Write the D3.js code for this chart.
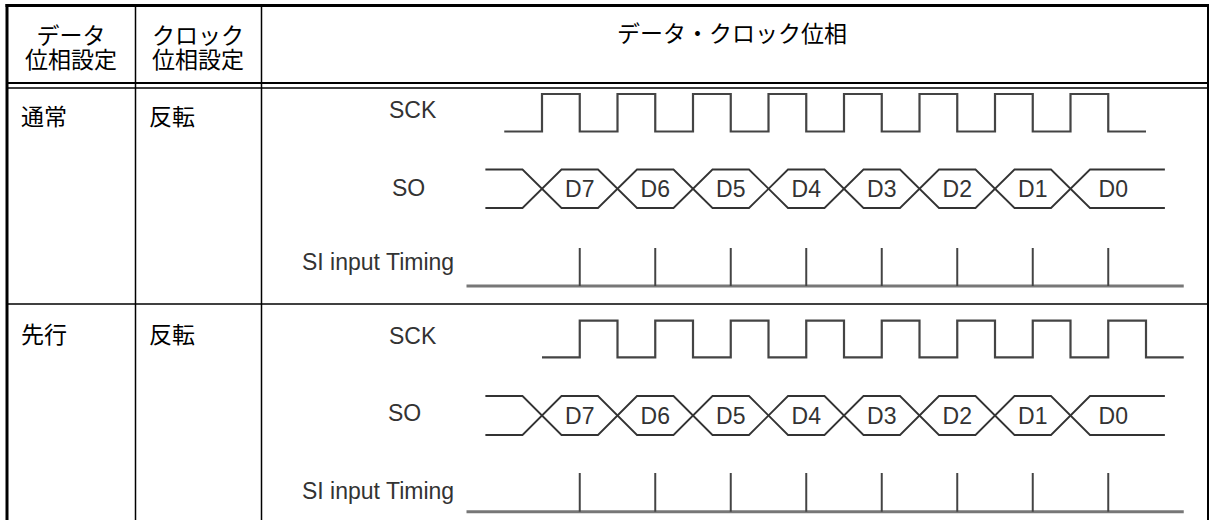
<!DOCTYPE html>
<html>
<head>
<meta charset="utf-8">
<script src="https://cdn.jsdelivr.net/npm/d3@7"></script>
<style>
  html, body { margin: 0; padding: 0; background: #fff; }
  svg { display: block; }
  .jp { font-family: "Noto Sans CJK JP", "Noto Sans", sans-serif; font-size: 23px; fill: #000; }
  .sig { font-family: "Liberation Sans", Arial, sans-serif; font-size: 23px; fill: #333; }
  .bit { font-family: "Liberation Sans", Arial, sans-serif; font-size: 23px; fill: #333; }
</style>
</head>
<body>
<svg id="chart" width="1210" height="520"></svg>
<script>
// ---------------- data ----------------
const headerCol1 = ["データ", "位相設定"];
const headerCol2 = ["クロック", "位相設定"];
const headerCol3 = "データ・クロック位相";
const dataPhase = ["通常", "先行"];
const clockPhase = ["反転", "反転"];
const signalNames = ["SCK", "SO", "SI input Timing"];
const bits = ["D7", "D6", "D5", "D4", "D3", "D2", "D1", "D0"];

// SCK waveforms: [time (bit units), level]
const sckRow1 = [[-0.5,0],[0,1],[0.5,0],[1,1],[1.5,0],[2,1],[2.5,0],[3,1],[3.5,0],[4,1],[4.5,0],[5,1],[5.5,0],[6,1],[6.5,0],[7,1],[7.5,0],[8,0]];
const sckRow2 = [[0,0],[0.5,1],[1,0],[1.5,1],[2,0],[2.5,1],[3,0],[3.5,1],[4,0],[4.5,1],[5,0],[5.5,1],[6,0],[6.5,1],[7,0],[7.5,1],[8,0],[8.5,0]];
// SO data transitions (bit units)
const soCrossRow1 = [0, 1, 2, 3, 4, 5, 6, 7];
const soCrossRow2 = [0, 1, 2, 3, 4, 5, 6, 7];
const soSpan = [-0.75, 8.25];
// SI sampling instants (bit units)
const siTicksRow1 = [0.5, 1.5, 2.5, 3.5, 4.5, 5.5, 6.5, 7.5];
const siTicksRow2 = [0.5, 1.5, 2.5, 3.5, 4.5, 5.5, 6.5, 7.5];
const siSpan = [-1, 8.5];

// ---------------- layout ----------------
const svg = d3.select("#chart");
const x = d3.scaleLinear().domain([0, 8]).range([542, 1146]);

const rows = [
  { mode: dataPhase[0], clk: clockPhase[0], textY: 115,
    sck: sckRow1, sckY: [131.5, 94], sckLabelY: 110,
    soCross: soCrossRow1, soY: [169.5, 208], soLabelX: 392, soLabelY: 188,
    si: siTicksRow1, siY: [286, 248], siLabelY: 262 },
  { mode: dataPhase[1], clk: clockPhase[1], textY: 333,
    sck: sckRow2, sckY: [357.3, 320.7], sckLabelY: 336,
    soCross: soCrossRow2, soY: [396, 435], soLabelX: 388, soLabelY: 413,
    si: siTicksRow2, siY: [511.7, 473], siLabelY: 491 }
];

// ---------------- table grid ----------------
const g = svg.append("g");
const line = (x1, y1, x2, y2, w) => g.append("line")
  .attr("x1", x1).attr("y1", y1).attr("x2", x2).attr("y2", y2)
  .attr("stroke", "#000").attr("stroke-width", w);

line(5.5, 5.5, 1208.5, 5.5, 3);     // top border
line(7, 4, 7, 520, 3);              // left border
line(1208, 4, 1208, 520, 2);        // right border
line(135.5, 5, 135.5, 520, 1.5);    // col sep 1
line(261.5, 5, 261.5, 520, 1.5);    // col sep 2
line(7, 83, 1208, 83, 2);           // header double line
line(7, 88, 1208, 88, 1.6);
line(7, 304, 1208, 304, 1.6);       // row separator

// header texts
const hdr = svg.append("g").attr("class", "jp");
[headerCol1, headerCol2].forEach((lines, i) => {
  const cx = i === 0 ? 71 : 198;
  const t = hdr.append("text").attr("text-anchor", "middle");
  lines.forEach((s, j) => {
    t.append("tspan").attr("x", cx).attr("y", 34 + j * 24)
      .attr("dominant-baseline", "central").text(s);
  });
});
hdr.append("text").attr("x", 732).attr("y", 32)
  .attr("text-anchor", "middle").attr("dominant-baseline", "central").text(headerCol3);

// ---------------- rows ----------------
rows.forEach(r => {
  const rg = svg.append("g");
  rg.append("text").attr("class", "jp").attr("x", 21).attr("y", r.textY)
    .attr("dominant-baseline", "central").text(r.mode);
  rg.append("text").attr("class", "jp").attr("x", 149).attr("y", r.textY)
    .attr("dominant-baseline", "central").text(r.clk);

  // signal labels
  rg.append("text").attr("class", "sig").attr("x", 389).attr("y", r.sckLabelY)
    .attr("dominant-baseline", "central").text(signalNames[0]);
  rg.append("text").attr("class", "sig").attr("x", r.soLabelX).attr("y", r.soLabelY)
    .attr("dominant-baseline", "central").text(signalNames[1]);
  rg.append("text").attr("class", "sig").attr("x", 302).attr("y", r.siLabelY)
    .attr("dominant-baseline", "central").text(signalNames[2]);

  // SCK
  const ySck = d3.scaleLinear().domain([0, 1]).range(r.sckY);
  rg.append("path").datum(r.sck)
    .attr("d", d3.line().x(d => x(d[0])).y(d => ySck(d[1])).curve(d3.curveStepAfter))
    .attr("fill", "none").attr("stroke", "#444").attr("stroke-width", 2.2)
    .attr("stroke-linejoin", "miter");

  // SO bus (two zig-zag lines forming hexagons)
  const ySo = d3.scaleLinear().domain([1, 0]).range(r.soY); // 1 = top, 0 = bottom
  const w = 19.5;
  [1, 0].forEach(startLevel => {
    let lvl = startLevel;
    const pts = [[x(soSpan[0]), ySo(lvl)]];
    r.soCross.forEach(c => {
      pts.push([x(c) - w, ySo(lvl)]);
      lvl = 1 - lvl;
      pts.push([x(c) + w, ySo(lvl)]);
    });
    pts.push([x(soSpan[1]), ySo(lvl)]);
    rg.append("path").attr("d", d3.line()(pts))
      .attr("fill", "none").attr("stroke", "#333").attr("stroke-width", 1.8);
  });
  const cross = r.soCross.concat([8]);
  rg.selectAll(".bit").data(bits).join("text")
    .attr("class", "bit")
    .attr("x", (d, i) => (x(cross[i]) + x(cross[i + 1])) / 2 + (i === 7 ? 5 : 0))
    .attr("y", (r.soY[0] + r.soY[1]) / 2)
    .attr("text-anchor", "middle").attr("dominant-baseline", "central")
    .text(d => d);

  // SI timing
  const ySi = d3.scaleLinear().domain([0, 1]).range(r.siY);
  rg.append("line").attr("x1", x(siSpan[0])).attr("x2", x(siSpan[1]))
    .attr("y1", ySi(0)).attr("y2", ySi(0))
    .attr("stroke", "#777").attr("stroke-width", 3);
  rg.selectAll(".tick").data(r.si).join("line")
    .attr("x1", d => x(d)).attr("x2", d => x(d))
    .attr("y1", ySi(1)).attr("y2", ySi(0))
    .attr("stroke", "#444").attr("stroke-width", 2);
});
</script>
</body>
</html>
